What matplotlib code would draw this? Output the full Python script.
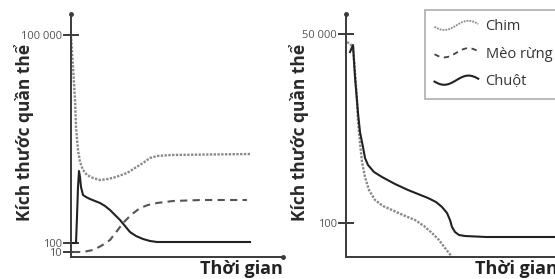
import matplotlib.pyplot as plt
import numpy as np
from matplotlib.legend_handler import HandlerLine2D
from matplotlib.lines import Line2D

plt.rcParams['font.family'] = ['Open Sans', 'DejaVu Sans']

# Sơ đồ: trục tung không theo tỉ lệ thật, dùng đơn vị tương đối (0 = gốc)
# --- Hình trái ---
left_ticks = [222, 14, 5]
left_tick_labels = ['100 000', '100', '10']

chim_l_x = [0, 2, 4, 5, 7, 9, 12, 16, 22, 29, 37, 45, 56, 64, 72, 79, 86, 100, 179]
chim_l_y = [222, 190, 157, 130, 107, 95, 87, 82, 79, 77, 78, 80, 84, 89, 94, 99, 101, 102, 103]

meo_l_x = [2, 12, 22, 30, 39, 46, 52, 60, 69, 77, 86, 102, 130, 176]
meo_l_y = [5, 5, 7, 11, 17, 26, 34, 42, 49, 52, 54, 56, 57, 57]

chuot_l_x = [0, 5, 6, 7, 8, 9, 10, 12, 15, 19, 24, 29, 34, 39, 44, 49, 54, 59, 65, 72, 79, 86, 179]
chuot_l_y = [14, 14, 40, 70, 86, 80, 70, 62, 60, 58, 56, 54, 51, 47, 42, 37, 31, 25, 21, 18, 16, 15, 15]

# --- Hình phải ---
right_ticks = [223, 34]
right_tick_labels = ['50 000', '100']

chim_r_x = [1, 4, 7, 9, 11, 12, 14, 16, 19, 23, 29, 37, 46, 57, 69, 78, 86, 93, 99, 106]
chim_r_y = [215, 213, 210, 185, 157, 135, 114, 95, 80, 67, 57, 51, 47, 42, 37, 31, 24, 17, 9, 0]

chuot_r_x = [4, 7, 9, 12, 14, 17, 19, 22, 28, 36, 49, 62, 72, 82, 90, 96, 101, 104, 106, 109,
             113, 119, 140, 215]
chuot_r_y = [205, 212, 180, 144, 125, 110, 99, 92, 85, 80, 73, 67, 63, 59, 55, 50, 44, 37, 30, 25,
             22, 21, 20, 20]

GRAY_AX = '#3a3a3a'


class WaveHandler(HandlerLine2D):
    def create_artists(self, legend, orig_handle, xdescent, ydescent,
                       width, height, fontsize, trans):
        t = np.linspace(0, 1, 40)
        xs = -xdescent + t * width
        ys = -ydescent + height / 2 - 0.45 * height * np.sin(2 * np.pi * (t * 0.9 + 0.05))
        line = Line2D(xs, ys)
        self.update_prop(line, orig_handle, legend)
        line.set_transform(trans)
        return [line]


def style_axes(ax, xmax, ticks, labels):
    ax.set_xlim(0, xmax)
    ax.set_ylim(0, 243)
    for s in ['top', 'right']:
        ax.spines[s].set_visible(False)
    for s in ['left', 'bottom']:
        ax.spines[s].set_color(GRAY_AX)
        ax.spines[s].set_linewidth(1.4)
    ax.set_xticks([])
    ax.set_yticks(ticks)
    ax.set_yticklabels(labels)
    ax.tick_params(axis='y', direction='inout', length=11, width=1.4,
                   color=GRAY_AX, labelsize=8, labelcolor='#555555', pad=1)
    ax.plot(0, 1, 'o', ms=2.5, color=GRAY_AX, transform=ax.transAxes, clip_on=False)
    ax.set_facecolor('none')


fig = plt.figure(figsize=(5.55, 2.79), dpi=100)

ax1 = fig.add_axes([71 / 555, 22 / 279, 212 / 555, 243 / 279])
style_axes(ax1, 212, left_ticks, left_tick_labels)
ax1.plot(1, 0, 'o', ms=2.5, color=GRAY_AX, transform=ax1.transAxes, clip_on=False)
ax1.plot(chim_l_x, chim_l_y, ls=(0, (1, 0.6)), color='#8a8a8a', lw=1.7)
ax1.plot(meo_l_x, meo_l_y, ls=(0, (3.5, 2.5)), color='#555555', lw=1.5)
ax1.plot(chuot_l_x, chuot_l_y, ls='-', color='#222222', lw=1.5)

ax2 = fig.add_axes([346 / 555, 22 / 279, 215 / 555, 243 / 279])
style_axes(ax2, 215, right_ticks, right_tick_labels)
ax2.plot(chim_r_x, chim_r_y, ls=(0, (1, 0.6)), color='#8a8a8a', lw=1.7)
ax2.plot(chuot_r_x, chuot_r_y, ls='-', color='#222222', lw=1.5)

for xl in [24 / 555, 299 / 555]:
    fig.text(xl, 147 / 279, 'Kích thước quần thể', rotation=90, ha='center', va='center',
             fontsize=12.5, fontweight='bold', color='#2a2a2a')
for xt in [200 / 555, 475 / 555]:
    fig.text(xt, 10 / 279, 'Thời gian', ha='left', va='center',
             fontsize=13, fontweight='bold', color='#222222')

handles = [
    Line2D([], [], ls=(0, (1, 0.6)), color='#8a8a8a', lw=1.3),
    Line2D([], [], ls=(0, (3, 2.5)), color='#444444', lw=1.3),
    Line2D([], [], ls='-', color='#222222', lw=1.5),
]
leg = ax2.legend(handles, ['Chim', 'Mèo rừng', 'Chuột'], loc='upper left',
                 bbox_to_anchor=(425 / 555, 1 - 10 / 279), bbox_transform=fig.transFigure,
                 borderaxespad=0, fontsize=10.5, frameon=True, fancybox=False,
                 handlelength=3.0, handletextpad=0.5, labelspacing=0.85, borderpad=0.65,
                 handler_map={Line2D: WaveHandler()})
leg.get_frame().set_edgecolor('#9a9a9a')
leg.get_frame().set_linewidth(1.2)
for t in leg.get_texts():
    t.set_color('#333333')

fig.savefig('out.png', dpi=100)
